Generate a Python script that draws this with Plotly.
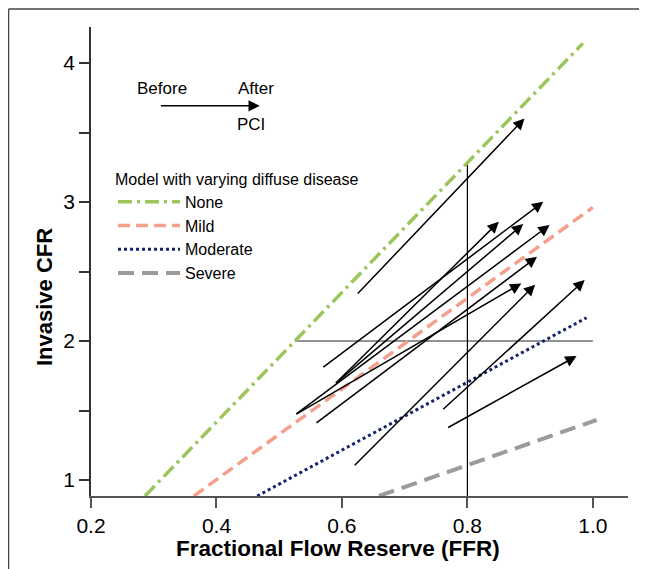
import plotly.graph_objects as go

# ---------------- data ----------------
# Model lines (FFR, invasive CFR) endpoints
model_names = ["None", "Mild", "Moderate", "Severe"]
none_x = [0.286, 0.984]
none_y = [0.885, 4.142]
mild_x = [0.364, 1.000]
mild_y = [0.885, 2.962]
moderate_x = [0.465, 0.990]
moderate_y = [0.885, 2.168]
severe_x = [0.659, 1.006]
severe_y = [0.885, 1.432]

# Patients: before PCI -> after PCI
ffr_before = [0.623, 0.568, 0.588, 0.588, 0.525, 0.525, 0.557, 0.618, 0.759, 0.767]
cfr_before = [2.331, 1.804, 1.688, 1.688, 1.468, 1.468, 1.403, 1.096, 1.499, 1.372]
ffr_after = [0.891, 0.921, 0.850, 0.889, 0.931, 0.886, 0.911, 0.908, 0.987, 0.974]
cfr_after = [3.602, 3.002, 2.858, 2.842, 2.835, 2.415, 2.606, 2.406, 2.439, 1.892]

# Reference lines
vline_x = [0.8, 0.8]
vline_y = [0.885, 3.283]
hline_x = [0.525, 1.0]
hline_y = [2.0, 2.0]

# Ticks
x_ticks = [0.2, 0.4, 0.6, 0.8, 1.0]
x_ticktext = ["0.2", "0.4", "0.6", "0.8", "1.0"]
y_ticks = [1, 1.5, 2, 2.5, 3, 3.5, 4]
y_ticktext = ["1", "", "2", "", "3", "", "4"]

# Before/after key
key_tail = (0.309, 3.693)
key_tip = (0.469, 3.693)
key_labels = ["Before", "After", "PCI"]
key_label_x = [0.313, 0.463, 0.455]
key_label_y = [3.818, 3.820, 3.561]

FONT = "Liberation Sans, Arial, Helvetica, sans-serif"

fig = go.Figure()

# reference lines
fig.add_trace(go.Scatter(x=hline_x, y=hline_y, mode="lines",
                         line=dict(color="#6e6e6e", width=1.5),
                         showlegend=False, hoverinfo="skip"))
fig.add_trace(go.Scatter(x=vline_x, y=vline_y, mode="lines",
                         line=dict(color="black", width=1.2),
                         showlegend=False, hoverinfo="skip"))

styles = [
    (none_x, none_y, "#9cc55c", "14px,5px,3px,5px", 3.5),
    (mild_x, mild_y, "#f4a08c", "12px,6px", 3.5),
    (moderate_x, moderate_y, "#14236e", "3px,3px", 3),
    (severe_x, severe_y, "#9b9b9b", "16px,8px", 4),
]
for name, (xs, ys, col, dash, w) in zip(model_names, styles):
    fig.add_trace(go.Scatter(x=xs, y=ys, mode="lines", name=name,
                             line=dict(color=col, width=w, dash=dash)))

annotations = []
for x0, y0, x1, y1 in zip(ffr_before, cfr_before, ffr_after, cfr_after):
    annotations.append(dict(x=x1, y=y1, ax=x0, ay=y0, xref="x", yref="y",
                            axref="x", ayref="y", text="", showarrow=True,
                            arrowhead=2, arrowsize=1.5, arrowwidth=1.5,
                            arrowcolor="black"))

annotations.append(dict(x=key_tip[0], y=key_tip[1], ax=key_tail[0], ay=key_tail[1],
                        xref="x", yref="y", axref="x", ayref="y", text="",
                        showarrow=True, arrowhead=2, arrowsize=1.5, arrowwidth=1.5,
                        arrowcolor="black"))
for t, lx, ly in zip(key_labels, key_label_x, key_label_y):
    annotations.append(dict(x=lx, y=ly, xref="x", yref="y", text=t, showarrow=False,
                            font=dict(family=FONT, size=17, color="black"),
                            xanchor="center", yanchor="middle"))

# axis titles
annotations.append(dict(x=0.594, y=-0.111, xref="x", yref="paper",
                        text="<b>Fractional Flow Reserve (FFR)</b>", showarrow=False,
                        font=dict(family=FONT, size=22.5, color="black"),
                        xanchor="center", yanchor="middle"))
annotations.append(dict(x=-0.0875, y=0.4243, xref="paper", yref="paper",
                        text="<b>Invasive CFR</b>", showarrow=False, textangle=-90,
                        font=dict(family=FONT, size=22, color="black"),
                        xanchor="center", yanchor="middle"))

# partial frame (top and left edges) seen in the picture
shapes = [
    dict(type="line", xref="paper", yref="paper", x0=-0.1536, y0=-0.3, x1=-0.1536, y1=1.0384,
         line=dict(color="#444444", width=1.5)),
    dict(type="line", xref="paper", yref="paper", x0=-0.1536, y0=1.0384, x1=1.2, y1=1.0384,
         line=dict(color="#444444", width=1.5)),
]

fig.update_layout(
    width=639, height=561,
    margin=dict(l=83, r=19, t=19, b=73),
    paper_bgcolor="white", plot_bgcolor="white",
    font=dict(family=FONT, size=21, color="black"),
    annotations=annotations,
    shapes=shapes,
    legend=dict(
        x=0.041, y=0.708, xanchor="left", yanchor="top",
        bgcolor="rgba(0,0,0,0)", borderwidth=0,
        font=dict(family=FONT, size=16, color="black"),
        title=dict(text="Model with varying diffuse disease",
                   font=dict(family=FONT, size=16, color="black"), side="top"),
        itemwidth=62, tracegroupgap=0,
    ),
    xaxis=dict(range=[0.2, 1.056], showgrid=False, zeroline=False,
               showline=True, linecolor="#555555", linewidth=1.5,
               ticks="outside", ticklen=10, tickwidth=1.5, tickcolor="#555555",
               tickvals=x_ticks, ticktext=x_ticktext,
               tickfont=dict(family=FONT, size=21, color="black")),
    yaxis=dict(range=[0.885, 4.26], showgrid=False, zeroline=False,
               showline=True, linecolor="#333333", linewidth=1.5,
               ticks="outside", ticklen=10, tickwidth=1.5, tickcolor="#333333",
               tickvals=y_ticks, ticktext=y_ticktext, ticklabelstandoff=0,
               tickfont=dict(family=FONT, size=21, color="black")),
)

fig.write_html("out.html")
